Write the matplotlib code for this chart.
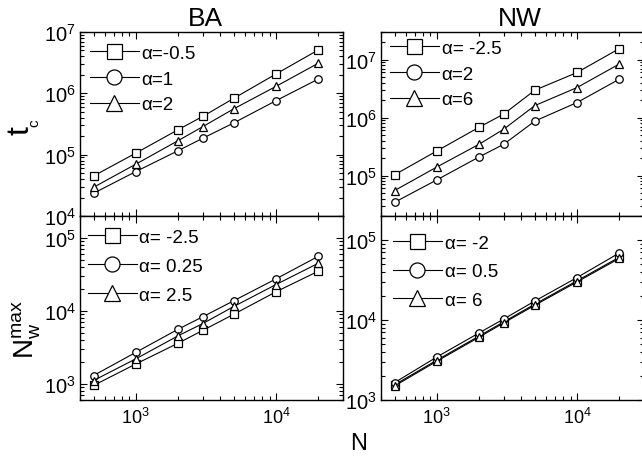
import matplotlib
matplotlib.use("Agg")
import matplotlib.pyplot as plt
from matplotlib.ticker import LogLocator, NullFormatter

plt.rcParams['font.family'] = ['Liberation Sans', 'DejaVu Sans']
plt.rcParams['mathtext.fontset'] = 'custom'
plt.rcParams['mathtext.rm'] = 'Liberation Sans'
plt.rcParams['mathtext.it'] = 'Liberation Sans:italic'

# ---- data ----
N = [500, 1000, 2000, 3000, 5000, 10000, 20000]

ba_labels_tc = ['α=-0.5', 'α=1', 'α=2']
ba_tc_sq = [4.5e4, 1.06e5, 2.55e5, 4.2e5, 8.3e5, 2.07e6, 5.1e6]
ba_tc_ci = [2.35e4, 5.3e4, 1.16e5, 1.85e5, 3.3e5, 7.6e5, 1.71e6]
ba_tc_tr = [2.94e4, 7.0e4, 1.69e5, 2.86e5, 5.6e5, 1.30e6, 3.1e6]

nw_labels_tc = ['α= -2.5', 'α=2', 'α=6']
nw_tc_sq = [1.03e5, 2.65e5, 6.8e5, 1.15e6, 2.97e6, 6.0e6, 1.55e7]
nw_tc_ci = [3.45e4, 8.4e4, 2.09e5, 3.46e5, 8.7e5, 1.82e6, 4.6e6]
nw_tc_tr = [5.5e4, 1.4e5, 3.46e5, 6.3e5, 1.61e6, 3.3e6, 8.4e6]

ba_labels_nw = ['α= -2.5', 'α= 0.25', 'α= 2.5']
ba_nw_sq = [950, 1870, 3600, 5400, 9000, 18300, 35000]
ba_nw_ci = [1300, 2700, 5600, 8300, 13800, 27500, 56000]
ba_nw_tr = [1110, 2200, 4550, 6700, 11500, 23000, 45000]

nw_labels_nw = ['α= -2', 'α= 0.5', 'α= 6']
nw_nw_sq = [1550, 3150, 6300, 9500, 15800, 31000, 61000]
nw_nw_ci = [1650, 3450, 6900, 10300, 17300, 34000, 69000]
nw_nw_tr = [1500, 3050, 6100, 9200, 15300, 30000, 59000]

W, H = 642, 460
fig = plt.figure(figsize=(W / 100, H / 100), dpi=100)

def rect(x0, y_top, x1, y_bot):
    return [x0 / W, 1 - y_bot / H, (x1 - x0) / W, (y_bot - y_top) / H]

ax_tl = fig.add_axes(rect(80, 33, 343, 217))
ax_tr = fig.add_axes(rect(381, 33, 644, 217))
ax_bl = fig.add_axes(rect(80, 217, 343, 401))
ax_br = fig.add_axes(rect(381, 217, 644, 401))

panels = [
    (ax_tl, [ba_tc_sq, ba_tc_ci, ba_tc_tr], ba_labels_tc, (1e4, 1e7), (0.038, 0.93), 0.45),
    (ax_tr, [nw_tc_sq, nw_tc_ci, nw_tc_tr], nw_labels_tc, (2e4, 3e7), (0.034, 0.957), 0.45),
    (ax_bl, [ba_nw_sq, ba_nw_ci, ba_nw_tr], ba_labels_nw, (6e2, 2e5), (0.03, 0.93), 0.62),
    (ax_br, [nw_nw_sq, nw_nw_ci, nw_nw_tr], nw_labels_nw, (1e3, 2e5), (0.046, 0.9), 0.62),
]
markers = ['s', 'o', '^']

for ax, series, labels, ylim, anchor, lsp in panels:
    for ys, m, lab in zip(series, markers, labels):
        ax.plot(N, ys, color='black', lw=0.8, marker=m, markersize=5.4 if m != '^' else 6,
                markerfacecolor='white', markeredgecolor='black', markeredgewidth=0.9,
                label=lab)
    ax.set_xscale('log')
    ax.set_yscale('log')
    ax.set_xlim(400, 30000)
    ax.set_ylim(*ylim)
    ax.yaxis.set_major_locator(LogLocator(base=10, numticks=10))
    ax.yaxis.set_minor_locator(LogLocator(base=10, subs=range(2, 10), numticks=20))
    ax.yaxis.set_minor_formatter(NullFormatter())
    ax.xaxis.set_minor_formatter(NullFormatter())
    ax.tick_params(which='both', direction='in', top=True, right=True, width=0.8)
    ax.tick_params(which='major', length=5)
    ax.tick_params(which='minor', length=3)
    ax.tick_params(axis='y', labelsize=14.5, pad=3)
    ax.tick_params(axis='x', labelsize=13, pad=5)
    for sp in ax.spines.values():
        sp.set_linewidth(1.0)
    leg = ax.legend(loc='upper left', bbox_to_anchor=anchor, frameon=False,
                    fontsize=13.5, markerscale=2.0, handlelength=2.6,
                    handletextpad=0.15, borderpad=0, borderaxespad=0,
                    labelspacing=lsp)

for ax in (ax_tl, ax_tr):
    ax.tick_params(axis='x', labelbottom=False)

# titles and axis labels
fig.text(205 / W, 1 - 19 / H, 'BA', ha='center', va='center', fontsize=19)
fig.text(520 / W, 1 - 19 / H, 'NW', ha='center', va='center', fontsize=19)
fig.text(359 / W, 1 - 444 / H, 'N', ha='center', va='center', fontsize=17)
fig.text(21 / W, 1 - 131 / H, 't', ha='center', va='center', fontsize=23, rotation=90)
fig.text(34 / W, 1 - 123 / H, 'c', ha='center', va='center', fontsize=11, rotation=90)
fig.text(27 / W, 1 - 330 / H, r'$\mathregular{N_w^{max}}$', ha='center', va='center',
         fontsize=20, rotation=90)

fig.savefig('out.png', dpi=100)
